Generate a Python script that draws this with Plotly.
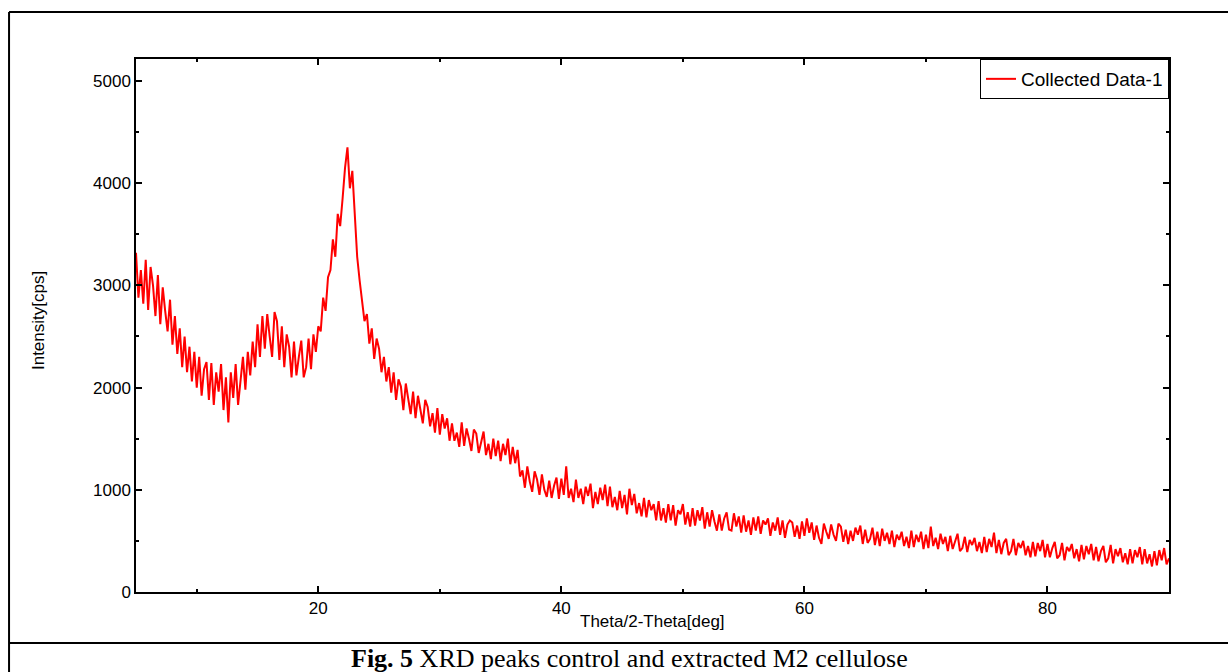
import numpy as np
import plotly.graph_objects as go

# 2-theta sampling grid (deg), step 0.2
theta = np.round(np.arange(5.0, 90.0001, 0.2), 1)

# Intensity [cps], 5 values per degree (d.0, d.2, d.4, d.6, d.8)
intensity = [
    3320, 2880, 3150, 2820, 3250,   # 5
    2760, 3180, 3000, 2700, 3100,   # 6
    2620, 2980, 2750, 2550, 2860,   # 7
    2420, 2700, 2330, 2580, 2200,   # 8
    2500, 2150, 2400, 2060, 2350,   # 9
    2000, 2300, 1920, 2180, 2250,   # 10
    1880, 2240, 1830, 2150, 1960,   # 11
    2230, 1780, 2100, 1660, 2150,   # 12
    1900, 2230, 1830, 2100, 2300,   # 13
    1980, 2350, 2120, 2450, 2200,   # 14
    2620, 2300, 2700, 2380, 2720,   # 15
    2500, 2300, 2740, 2650, 2270,   # 16
    2600, 2200, 2520, 2400, 2100,   # 17
    2450, 2120, 2300, 2460, 2100,   # 18
    2200, 2480, 2180, 2520, 2350,   # 19
    2600, 2550, 2880, 2750, 3080,   # 20
    3150, 3450, 3280, 3700, 3580,   # 21
    3850, 4150, 4350, 3950, 4120,   # 22
    3650, 3280, 3050, 2820, 2650,   # 23
    2720, 2430, 2580, 2280, 2480,   # 24
    2380, 2150, 2300, 2060, 2200,   # 25
    1950, 2150, 1880, 2080, 2010,   # 26
    1780, 2040, 1900, 1740, 1960,   # 27
    1700, 1920, 1800, 1650, 1880,   # 28
    1810, 1620, 1750, 1560, 1800,   # 29
    1540, 1740, 1600, 1700, 1480,   # 30
    1650, 1480, 1560, 1420, 1660,   # 31
    1430, 1600, 1500, 1380, 1590,   # 32
    1550, 1360, 1480, 1570, 1340,   # 33
    1450, 1300, 1500, 1330, 1480,   # 34
    1280, 1450, 1340, 1500, 1250,   # 35
    1420, 1260, 1390, 1130, 1190,   # 36
    1020, 1230, 1080, 980, 1180,    # 37
    1100, 950, 1150, 1000, 930,     # 38
    1090, 920, 1040, 1120, 910,     # 39
    1110, 950, 1230, 920, 1010,     # 40
    880, 1100, 920, 1010, 860,      # 41
    1030, 940, 1060, 820, 980,      # 42
    860, 1020, 900, 1050, 840,      # 43
    1030, 830, 930, 800, 990,       # 44
    820, 950, 760, 1010, 850,       # 45
    960, 770, 870, 740, 920,        # 46
    730, 900, 800, 860, 700,        # 47
    890, 700, 820, 680, 860,        # 48
    700, 850, 650, 800, 760,        # 49
    860, 660, 780, 640, 820,        # 50
    650, 800, 700, 830, 620,        # 51
    780, 640, 800, 690, 600,        # 52
    760, 600, 720, 780, 610,        # 53
    600, 770, 640, 740, 580,        # 54
    750, 590, 700, 560, 730,        # 55
    600, 740, 570, 700, 660,        # 56
    720, 550, 680, 600, 730,        # 57
    560, 700, 530, 660, 700,        # 58
    680, 540, 650, 520, 690,        # 59
    550, 720, 580, 680, 510,        # 60
    650, 530, 470, 670, 590,        # 61
    520, 660, 560, 500, 670,        # 62
    640, 490, 610, 470, 600,        # 63
    500, 630, 560, 650, 470,        # 64
    610, 480, 520, 630, 460,        # 65
    590, 450, 620, 500, 580,        # 66
    470, 600, 440, 560, 510,        # 67
    590, 450, 540, 430, 600,        # 68
    440, 560, 490, 590, 420,        # 69
    560, 430, 640, 450, 530,        # 70
    420, 570, 470, 540, 400,        # 71
    550, 420, 500, 570, 400,        # 72
    430, 540, 390, 510, 460,        # 73
    530, 400, 490, 380, 540,        # 74
    390, 520, 440, 580, 380,        # 75
    510, 370, 480, 520, 360,        # 76
    400, 520, 360, 480, 430,        # 77
    500, 360, 450, 340, 490,        # 78
    350, 480, 400, 510, 340,        # 79
    470, 340, 430, 490, 330,        # 80
    360, 480, 310, 440, 400,        # 81
    470, 330, 420, 300, 460,        # 82
    320, 450, 370, 470, 310,        # 83
    440, 300, 400, 450, 290,        # 84
    330, 460, 280, 420, 350,        # 85
    430, 290, 380, 270, 420,        # 86
    280, 410, 340, 440, 270,        # 87
    420, 280, 370, 250, 400,        # 88
    260, 410, 310, 430, 270,        # 89
    330,                            # 90
]

series_name = "Collected Data-1"
x_title = "Theta/2-Theta[deg]"
y_title = "Intensity[cps]"
caption_bold = "Fig. 5"
caption_rest = " XRD peaks control and extracted M2 cellulose"

SANS = "Arial, Liberation Sans, sans-serif"
SERIF = "Times New Roman, Liberation Serif, serif"

fig = go.Figure()
fig.add_trace(go.Scatter(
    x=theta, y=intensity, mode="lines", name=series_name,
    line=dict(color="#ff0000", width=2),
))

axis_common = dict(
    showline=True, linecolor="black", linewidth=1.5, mirror="ticks",
    ticks="inside", ticklen=6, tickwidth=1.5, tickcolor="black",
    showgrid=False, zeroline=False,
    tickfont=dict(family=SANS, size=17, color="black"),
)

fig.update_xaxes(range=[5, 90], dtick=20, tick0=0,
                 minor=dict(dtick=10, ticks="inside", ticklen=3, tickcolor="black"),
                 **axis_common)
fig.update_yaxes(range=[0, 5215], dtick=1000, tick0=0,
                 minor=dict(dtick=500, ticks="inside", ticklen=3, tickcolor="black"),
                 **axis_common)

fig.update_layout(
    width=1228, height=672,
    margin=dict(l=136, r=59, t=59, b=80),
    paper_bgcolor="white", plot_bgcolor="white",
    showlegend=True,
    legend=dict(x=1, y=1, xanchor="right", yanchor="top",
                bordercolor="black", borderwidth=1, bgcolor="white",
                font=dict(family=SANS, size=19, color="black"),
                tracegroupgap=0),
    font=dict(family=SANS, color="black"),
)

# axis titles
fig.add_annotation(text=x_title, xref="paper", yref="paper", x=0.5, y=-0.056,
                   showarrow=False, yanchor="middle",
                   font=dict(family=SANS, size=17, color="black"))
fig.add_annotation(text=y_title, xref="paper", yref="paper", x=-0.095, y=0.51,
                   showarrow=False, textangle=-90, xanchor="center", yanchor="middle",
                   font=dict(family=SANS, size=17, color="black"))

# caption
fig.add_annotation(text="<b>" + caption_bold + "</b>" + caption_rest,
                   xref="paper", yref="paper", x=0.478, y=-0.1257,
                   showarrow=False, xanchor="center", yanchor="middle",
                   font=dict(family=SERIF, size=26, color="black"))

# outer table frame and caption separator
frame = dict(color="black", width=2)
fig.add_shape(type="line", xref="paper", yref="paper", x0=-0.1229, x1=1.06, y0=1.0882, y1=1.0882, line=frame)
fig.add_shape(type="line", xref="paper", yref="paper", x0=-0.1229, x1=-0.1229, y0=1.0882, y1=-0.16, line=frame)
fig.add_shape(type="line", xref="paper", yref="paper", x0=-0.1229, x1=1.06, y0=-0.0957, y1=-0.0957, line=frame)

fig.write_html("out.html")
